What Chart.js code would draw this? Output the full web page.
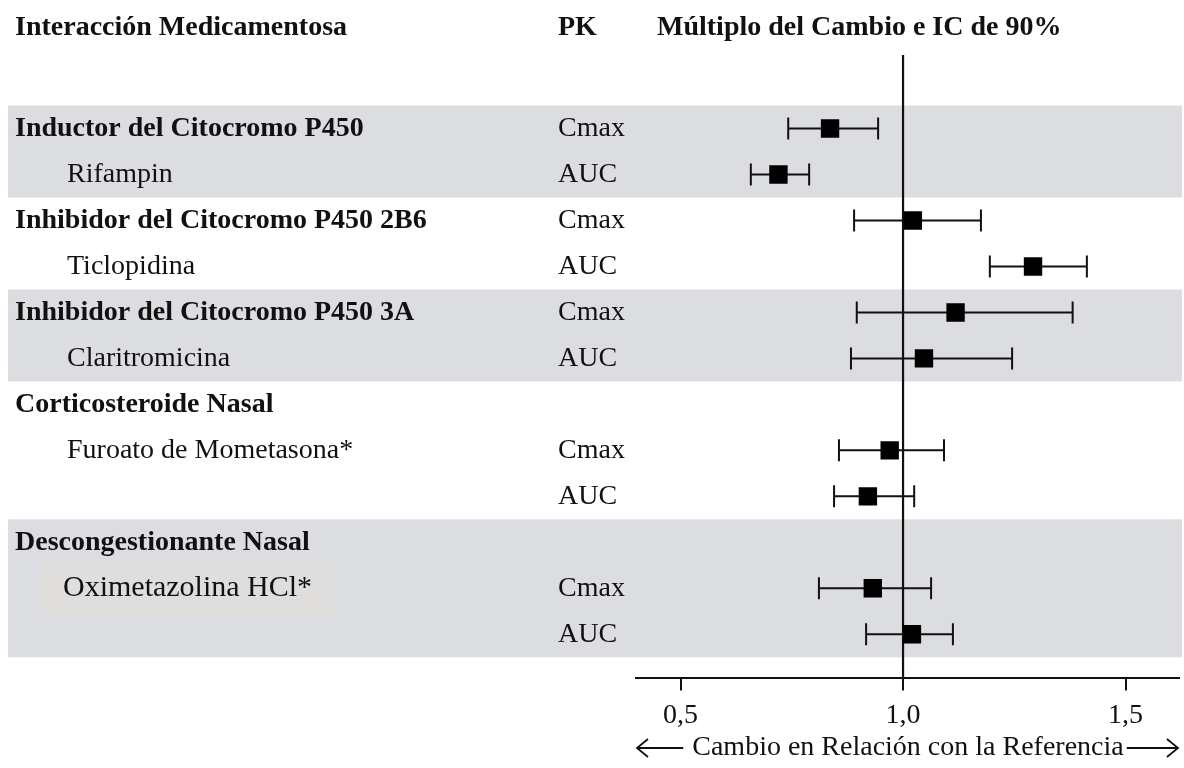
<!DOCTYPE html>
<html>
<head>
<meta charset="utf-8">
<script src="https://cdn.jsdelivr.net/npm/chart.js@4.4.0/dist/chart.umd.min.js"></script>
<style>
    html, body { margin: 0; padding: 0; background: #fff; }
    #contenedor { width: 1184px; height: 768px; }
</style>
</head>
<body>
<div id="contenedor"><canvas id="graficaInteracciones"></canvas></div>
<script>
// Filas de la gráfica (de arriba hacia abajo)
const etiquetas = [
    'Inductor del Citocromo P450',
    'Rifampin',
    'Inhibidor del Citocromo P450 2B6',
    'Ticlopidina',
    'Inhibidor del Citocromo P450 3A',
    'Claritromicina',
    'Corticosteroide Nasal',
    'Furoato de Mometasona*',
    '',
    'Descongestionante Nasal',
    'Oximetazolina HCl*',
    ''
];
const esGrupo = [true, false, true, false, true, false, true, false, false, true, false, false];
const parametrosPK = ['Cmax', 'AUC', 'Cmax', 'AUC', 'Cmax', 'AUC', '', 'Cmax', 'AUC', '', 'Cmax', 'AUC'];

// Múltiplo del cambio e IC de 90%
const cambio     = [0.836, 0.720, 1.022, 1.292, 1.118, 1.047, null, 0.970, 0.921, null, 0.932, 1.020];
const icInferior = [0.742, 0.658, 0.890, 1.195, 0.896, 0.883, null, 0.856, 0.845, null, 0.811, 0.917];
const icSuperior = [0.944, 0.789, 1.175, 1.413, 1.381, 1.245, null, 1.092, 1.025, null, 1.063, 1.112];

// Bandas grises (fila inicial, fila final)
const bandas = [[0, 1], [4, 5], [9, 11]];
const marcasX = [0.5, 1.0, 1.5];

const fuente = '"Liberation Serif", "Times New Roman", serif';
const negro = '#111';

const puntos = [];
cambio.forEach((v, i) => {
    if (v !== null) puntos.push({ x: v, y: i, lo: icInferior[i], hi: icSuperior[i] });
});

// Fondo, bandas, texto de columnas y barras de error
const pluginForest = {
    id: 'forest',
    beforeDraw(chart) {
        const { ctx, scales } = chart;
        const y = scales.y;
        ctx.save();
        ctx.fillStyle = '#fff';
        ctx.fillRect(0, 0, chart.width, chart.height);

        ctx.fillStyle = '#dcdde0';
        bandas.forEach(([a, b]) => {
            const top = y.getPixelForValue(a - 0.5);
            const bottom = y.getPixelForValue(b + 0.5);
            ctx.fillRect(8, top, 1174, bottom - top);
        });

        // recuadro de Oximetazolina
        const yOxi = y.getPixelForValue(10);
        ctx.fillStyle = '#dfdedc';
        ctx.fillRect(42, yOxi - 27, 291, 54);

        // encabezados
        ctx.fillStyle = negro;
        ctx.textBaseline = 'middle';
        ctx.font = 'bold 28px ' + fuente;
        ctx.fillText('Interacción Medicamentosa', 15, 28);
        ctx.fillText('PK', 558, 28);
        ctx.fillText('Múltiplo del Cambio e IC de 90%', 657, 28);

        etiquetas.forEach((txt, i) => {
            const py = y.getPixelForValue(i);
            if (txt) {
                if (esGrupo[i]) {
                    ctx.font = 'bold 28px ' + fuente;
                    ctx.fillText(txt, 15, py);
                } else if (i === 10) {
                    ctx.font = '30px ' + fuente;
                    ctx.fillText(txt, 63, py);
                } else {
                    ctx.font = '28px ' + fuente;
                    ctx.fillText(txt, 67, py);
                }
            }
            if (parametrosPK[i]) {
                ctx.font = '28px ' + fuente;
                ctx.fillText(parametrosPK[i], 558, py);
            }
        });
        ctx.restore();
    },
    beforeDatasetsDraw(chart) {
        const { ctx, scales, chartArea } = chart;
        const x = scales.x, y = scales.y;
        ctx.save();
        ctx.strokeStyle = negro;
        ctx.lineWidth = 2.2;

        // línea de referencia en 1,0
        const x1 = x.getPixelForValue(1);
        ctx.beginPath();
        ctx.moveTo(x1, chartArea.top);
        ctx.lineTo(x1, chartArea.bottom);
        ctx.stroke();

        ctx.lineWidth = 2;
        puntos.forEach(p => {
            const py = y.getPixelForValue(p.y);
            const xa = x.getPixelForValue(p.lo);
            const xb = x.getPixelForValue(p.hi);
            ctx.beginPath();
            ctx.moveTo(xa, py); ctx.lineTo(xb, py);
            ctx.moveTo(xa, py - 11); ctx.lineTo(xa, py + 11);
            ctx.moveTo(xb, py - 11); ctx.lineTo(xb, py + 11);
            ctx.stroke();
        });
        ctx.restore();
    },
    afterDraw(chart) {
        const { ctx, chartArea } = chart;
        const yT = 748;
        const texto = 'Cambio en Relación con la Referencia';
        ctx.save();
        ctx.fillStyle = negro;
        ctx.strokeStyle = negro;
        ctx.lineWidth = 1.8;
        ctx.font = '28px ' + fuente;
        ctx.textBaseline = 'middle';
        ctx.textAlign = 'center';
        ctx.fillText(texto, 908, yT);
        const ancho = ctx.measureText(texto).width;

        const izq = chartArea.left + 1, der = chartArea.right - 1;
        const finIzq = 908 - ancho / 2 - 9, iniDer = 908 + ancho / 2 + 3;
        ctx.beginPath();
        ctx.moveTo(izq, yT); ctx.lineTo(finIzq, yT);
        ctx.moveTo(izq + 11, yT - 9); ctx.lineTo(izq, yT); ctx.lineTo(izq + 11, yT + 9);
        ctx.moveTo(iniDer, yT); ctx.lineTo(der, yT);
        ctx.moveTo(der - 11, yT - 9); ctx.lineTo(der, yT); ctx.lineTo(der - 11, yT + 9);
        ctx.stroke();
        ctx.restore();
    }
};

const ctx = document.getElementById('graficaInteracciones').getContext('2d');

new Chart(ctx, {
    type: 'scatter',
    data: {
        datasets: [{
            label: 'Múltiplo del cambio',
            data: puntos,
            pointStyle: 'rect',
            pointRadius: 13,
            pointHoverRadius: 13,
            backgroundColor: '#000',
            borderColor: '#000',
            borderWidth: 0
        }]
    },
    options: {
        responsive: true,
        maintainAspectRatio: false,
        animation: false,
        events: [],
        layout: {
            autoPadding: false,
            padding: { top: 55, left: 636, right: 5, bottom: 28 }
        },
        scales: {
            x: {
                type: 'linear',
                min: 0.4,
                max: 1.62,
                afterBuildTicks: axis => {
                    axis.ticks = marcasX.map(v => ({ value: v }));
                },
                border: { color: negro, width: 2 },
                grid: {
                    drawOnChartArea: false,
                    drawTicks: true,
                    tickLength: 12,
                    color: negro,
                    lineWidth: 2
                },
                ticks: {
                    color: negro,
                    padding: 8,
                    font: { family: fuente, size: 28 },
                    callback: value => value.toFixed(1).replace('.', ',')
                }
            },
            y: {
                type: 'linear',
                display: false,
                reverse: true,
                min: -1.6,
                max: 11.96
            }
        },
        plugins: {
            legend: { display: false },
            tooltip: { enabled: false }
        }
    },
    plugins: [pluginForest]
});
</script>
</body>
</html>
